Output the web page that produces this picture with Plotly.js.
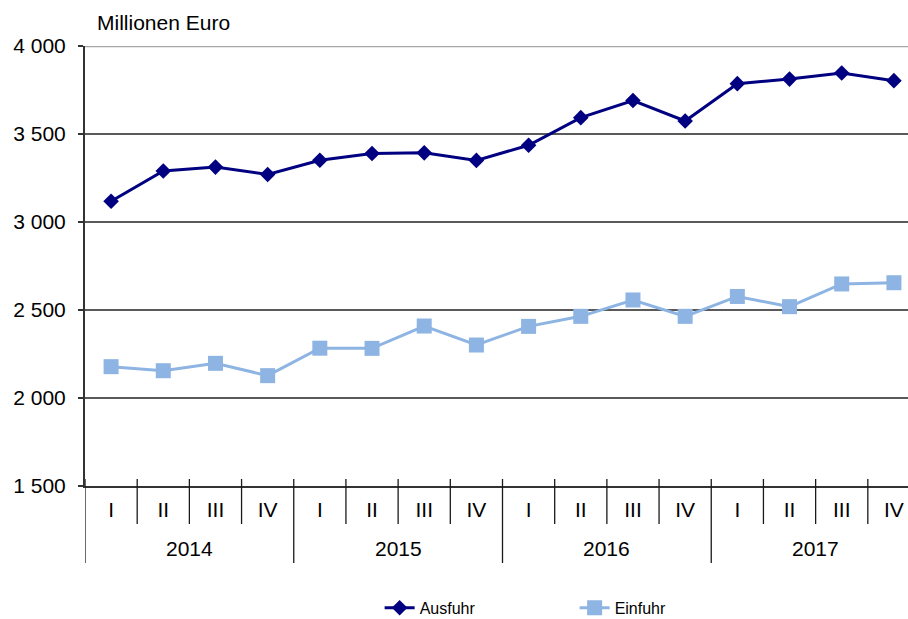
<!DOCTYPE html>
<html><head><meta charset="utf-8">
<script src="https://cdn.plot.ly/plotly-3.0.1.min.js"></script>
<style>html,body{margin:0;padding:0;background:#fff}</style>
</head><body><div id="chart" style="width:908px;height:619px"></div>
<script>
const years = ['2014', '2015', '2016', '2017'];
const quarters = ['I', 'II', 'III', 'IV'];
const ausfuhr = [3118, 3290, 3312, 3270, 3351, 3389, 3393, 3350, 3436, 3593, 3690, 3574, 3786, 3812, 3847, 3803];
const einfuhr = [2178, 2155, 2197, 2127, 2283, 2282, 2409, 2301, 2407, 2464, 2557, 2464, 2577, 2519, 2648, 2655];
const seriesNames = ['Ausfuhr', 'Einfuhr'];
const unitLabel = 'Millionen Euro';

const yRange = [1500, 4000];
const periodQuarter = years.flatMap(() => quarters);
const xIdx = periodQuarter.map((_, i) => i);
const FONT = 'Liberation Sans, Arial, sans-serif';

const traces = [
  {x: xIdx, y: ausfuhr, name: seriesNames[0], type: 'scatter', mode: 'lines+markers',
   line: {color: '#000080', width: 3}, marker: {symbol: 'diamond', size: 12, color: '#000080'}},
  {x: xIdx, y: einfuhr, name: seriesNames[1], type: 'scatter', mode: 'lines+markers',
   line: {color: '#8db4e2', width: 3}, marker: {symbol: 'square', size: 15, color: '#8db4e2'}}
];

const shapes = [];
for (let b = 0; b <= xIdx.length; b++) {
  const isYear = b % quarters.length === 0;
  shapes.push({type: 'line', xref: 'x', yref: 'paper', ysizemode: 'pixel', yanchor: 0,
    x0: b - 0.5, x1: b - 0.5, y0: 7, y1: isYear ? -77 : -38,
    line: {color: '#1a1a1a', width: 1.3}, layer: 'above'});
}
shapes.push({type: 'line', xref: 'paper', yref: 'y', x0: 0, x1: 1, y0: yRange[1], y1: yRange[1],
  line: {color: '#a6a6a6', width: 2.5}, layer: 'below'});

const annotations = years.map((yr, k) => ({
  text: yr, xref: 'x', yref: 'paper', x: k * quarters.length + (quarters.length - 1) / 2,
  y: 0, yshift: -62, yanchor: 'middle', showarrow: false,
  font: {family: FONT, size: 21, color: '#000'}
}));
annotations.push({text: unitLabel, xref: 'paper', yref: 'paper', x: 0.0125, y: 1.0545,
  xanchor: 'left', yanchor: 'middle', showarrow: false, font: {family: FONT, size: 21, color: '#000'}});

const layout = {
  width: 908, height: 619,
  margin: {l: 85, r: 0, t: 46, b: 133, autoexpand: false},
  paper_bgcolor: '#fff', plot_bgcolor: '#fff',
  separators: ', ',
  font: {family: FONT, size: 21, color: '#000'},
  showlegend: true,
  legend: {orientation: 'h', x: 0.358, xanchor: 'left', y: -0.277, yanchor: 'middle',
    font: {family: FONT, size: 16, color: '#000'}, entrywidth: 150, entrywidthmode: 'pixels',
    bgcolor: 'rgba(0,0,0,0)'},
  xaxis: {range: [-0.5, 15.27], tickvals: xIdx, ticktext: periodQuarter, ticks: '',
    showgrid: false, zeroline: false, showline: true, linecolor: '#333', linewidth: 2,
    tickfont: {family: FONT, size: 21, color: '#000'}, ticklabelstandoff: 4, fixedrange: true},
  yaxis: {range: yRange, dtick: 500, tick0: 0, tickformat: ',d', ticks: 'outside', ticklen: 5,
    tickcolor: '#333', tickwidth: 1.5, showgrid: true, gridcolor: '#5a5a5a', gridwidth: 1.5,
    zeroline: false, showline: true, linecolor: '#333', linewidth: 2,
    tickfont: {family: FONT, size: 21, color: '#000'}, ticklabelstandoff: 8, fixedrange: true},
  shapes: shapes,
  annotations: annotations
};

Plotly.newPlot('chart', traces, layout, {displayModeBar: false, staticPlot: true});
</script>
</body></html>
